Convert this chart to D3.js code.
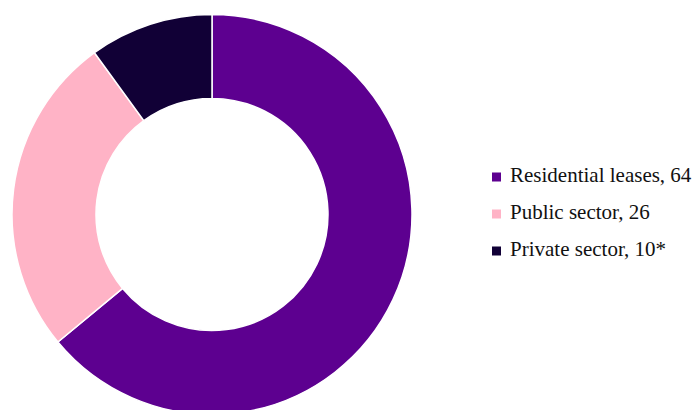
<!DOCTYPE html>
<html><head><meta charset="utf-8">
<script src="https://cdn.jsdelivr.net/npm/d3@7"></script>
<style>html,body{margin:0;padding:0;background:#fff;}svg{display:block;}</style>
</head><body>
<svg id="chart" width="695" height="410"></svg>
<script>
const categories = ["Residential leases", "Public sector", "Private sector"];
const values = [64, 26, 10];
const labels = ["Residential leases, 64", "Public sector, 26", "Private sector, 10*"];
const colors = ["#5d0090", "#ffb3c6", "#110036"];

const svg = d3.select("#chart");
const cx = 212, cy = 214.5, outerR = 200, innerR = 116;

const data = categories.map((c, i) => ({ cat: c, value: values[i], label: labels[i] }));
const color = d3.scaleOrdinal().domain(categories).range(colors);
const pie = d3.pie().value(d => d.value).sort(null);
const arc = d3.arc().innerRadius(innerR).outerRadius(outerR);

svg.append("g").attr("transform", `translate(${cx},${cy})`)
  .selectAll("path").data(pie(data)).join("path")
  .attr("d", arc)
  .attr("fill", d => color(d.data.cat))
  .attr("stroke", "#fff")
  .attr("stroke-width", 1.5);

const y = d3.scalePoint().domain(categories).range([181.5, 255.5]);
const leg = svg.append("g").selectAll("g").data(data).join("g")
  .attr("transform", d => `translate(492,${y(d.cat)})`);
leg.append("rect").attr("x", 0).attr("y", -9).attr("width", 9).attr("height", 9)
  .attr("fill", d => color(d.cat));
leg.append("text").attr("x", 18).attr("y", 0)
  .attr("font-family", "'Liberation Serif', 'Times New Roman', serif")
  .attr("font-size", 21).attr("fill", "#111")
  .text(d => d.label);
</script>
</body></html>
